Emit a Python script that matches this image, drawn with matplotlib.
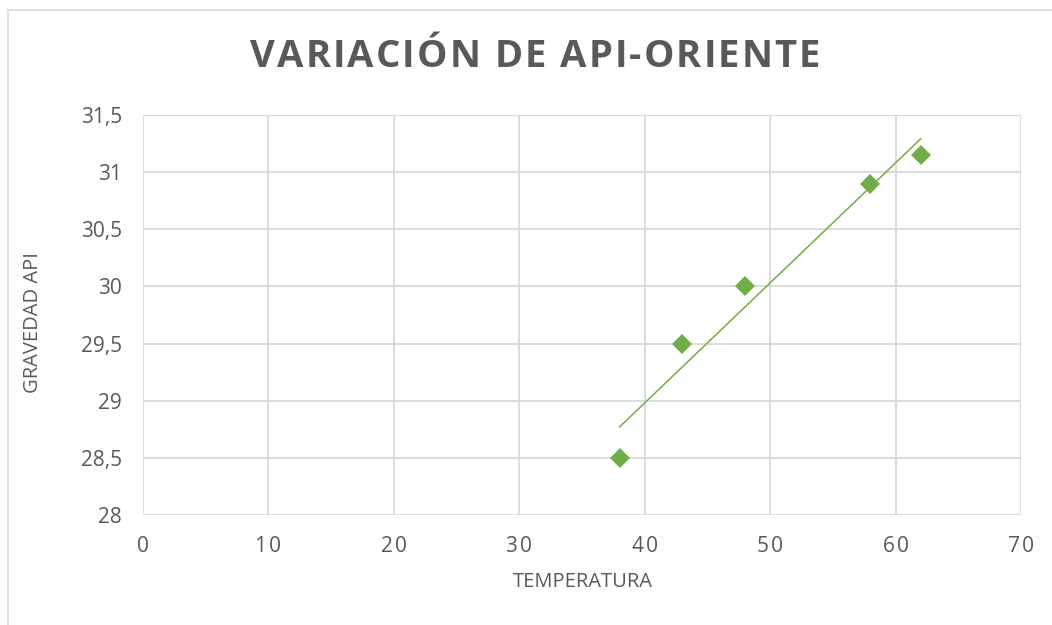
import numpy as np
import matplotlib
matplotlib.use("Agg")
import matplotlib.pyplot as plt
from matplotlib.lines import Line2D

temperatura = [38, 43, 48, 58, 62]
gravedad_api = [28.5, 29.5, 30.0, 30.9, 31.15]
x_ticks = [0, 10, 20, 30, 40, 50, 60, 70]
y_ticks = [28, 28.5, 29, 29.5, 30, 30.5, 31, 31.5]
y_tick_labels = ["28", "28,5", "29", "29,5", "30", "30,5", "31", "31,5"]
x_tick_labels = ["0", "10", "20", "30", "40", "50", "60", "70"]
title = "VARIACIÓN DE API-ORIENTE"

W, H = 1052, 625
plt.rcParams['font.family'] = ['Open Sans', 'DejaVu Sans']
fig = plt.figure(figsize=(W / 100, H / 100), dpi=100)

ax = fig.add_axes([143 / W, 1 - 515 / H, (1021 - 143) / W, (515 - 115) / H])

green = "#70AD47"
gray_text = "#595959"
grid_c = "#D9D9D9"

ax.plot(temperatura, gravedad_api, linestyle="none", marker="D", markersize=10.3,
        color=green, markeredgewidth=0, zorder=3)

coef = np.polyfit(temperatura, gravedad_api, 1)
xf = np.array([min(temperatura), max(temperatura)])
ax.plot(xf, np.polyval(coef, xf), color=green, linewidth=1.1, zorder=2)

ax.set_xlim(0, 70)
ax.set_ylim(28, 31.5)
ax.set_xticks(x_ticks)
ax.set_xticklabels(["\u200a".join(list(s)) for s in x_tick_labels])
ax.set_yticks(y_ticks)
ax.set_yticklabels(y_tick_labels)
ax.grid(True, color=grid_c, linewidth=1.3)
ax.set_axisbelow(True)
for s in ax.spines.values():
    s.set_visible(False)
ax.tick_params(length=0, labelsize=15, labelcolor=gray_text)
ax.tick_params(axis="x", pad=15)
ax.tick_params(axis="y", pad=15)

ax.set_xlabel("TEMPERATURA", fontsize=14.5, color=gray_text)
ax.xaxis.set_label_coords(0.5 + 1 / 878, -(582 - 515) / 400)
ax.xaxis.label.set_va("center")
ax.set_ylabel("GRAVEDAD API", fontsize=14.5, color=gray_text)
ax.yaxis.set_label_coords(-(143 - 33) / 878, 1 - (323 - 115) / 400)
ax.yaxis.label.set_va("center")

# title with letter spacing, drawn char by char
renderer = fig.canvas.get_renderer()
tprops = dict(fontsize=27.5, fontweight="bold", color=gray_text)
widths = []
for ch in title:
    if ch == " ":
        t = fig.text(0, 0, "a a", **tprops)
        w_aa = t.get_window_extent(renderer).width
        t.remove()
        t = fig.text(0, 0, "aa", **tprops)
        w_a = t.get_window_extent(renderer).width
        t.remove()
        widths.append(w_aa - w_a)
    else:
        t = fig.text(0, 0, ch, **tprops)
        widths.append(t.get_window_extent(renderer).width)
        t.remove()
target_left, target_right = 250, 820
extra = (target_right - target_left - sum(widths)) / (len(title) - 1)
x = target_left
for ch, w in zip(title, widths):
    if ch != " ":
        fig.text(x / W, 1 - 57 / H, ch, ha="left", va="center", **tprops)
    x += w + extra

# chart border (top and left edges)
fig.add_artist(Line2D([8 / W, 1], [1 - 10 / H, 1 - 10 / H], color=grid_c, linewidth=1.2))
fig.add_artist(Line2D([8 / W, 8 / W], [0, 1 - 10 / H], color=grid_c, linewidth=1.2))

fig.savefig("out.png", dpi=100)
